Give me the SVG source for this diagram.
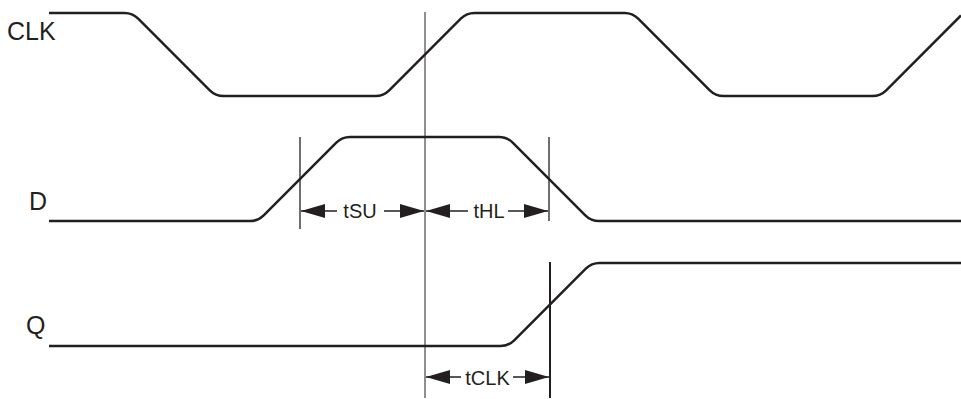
<svg xmlns="http://www.w3.org/2000/svg" width="961" height="399" viewBox="0 0 961 399">
<defs>
<style>
.wave{fill:none;stroke:#231f20;stroke-width:2.5;stroke-linejoin:round}
.mark{stroke:#231f20;fill:none}
.dim{stroke:#231f20;stroke-width:1.6;fill:none;marker-end:url(#ah)}
.lbl{font-family:"Liberation Sans",Arial,sans-serif;font-size:25px;fill:#231f20}
.dl{font-family:"Liberation Sans",Arial,sans-serif;font-size:20px;fill:#231f20;text-anchor:middle}
</style>
<marker id="ah" viewBox="0 0 24 14" refX="24" refY="7" markerWidth="24" markerHeight="14" orient="auto" markerUnits="userSpaceOnUse">
<path d="M0,0 L24,7 L0,14 Z" fill="#231f20"/>
</marker>
</defs>
<rect width="961" height="399" fill="#ffffff"/>
<g id="clk">
<text class="lbl" x="7" y="40">CLK</text>
<path class="wave" d="M49,13 H124.5 Q132.5,13 138.2,18.7 L209.8,90.3 Q215.5,96 223.5,96 H375.5 Q383.5,96 389.2,90.3 L460.8,18.7 Q466.5,13 474.5,13 H624.5 Q632.5,13 638.2,18.7 L709.8,90.3 Q715.5,96 723.5,96 H872.5 Q880.5,96 886.2,90.3 L961,15.5"/>
</g>
<g id="d">
<text class="lbl" x="29" y="210">D</text>
<path class="wave" d="M49,221 H250 Q258,221 263.7,215.3 L336.3,142.7 Q342,137 350,137 H499 Q507,137 512.7,142.7 L585.3,215.3 Q591,221 599,221 H961"/>
</g>
<g id="q">
<text class="lbl" x="26" y="334">Q</text>
<path class="wave" d="M49,346 H500.5 Q508.5,346 514.2,340.3 L585.8,268.7 Q591.5,263 599.5,263 H961"/>
</g>
<g id="connectors">
<line class="mark" x1="425" y1="12" x2="425" y2="398" stroke-width="1"/>
<line class="mark" x1="300" y1="137" x2="300" y2="229" stroke-width="1.3"/>
<line class="mark" x1="549" y1="137" x2="549" y2="221" stroke-width="1.3"/>
<line class="mark" x1="550" y1="262" x2="550" y2="398" stroke-width="2"/>
<line class="dim" x1="337" y1="211" x2="301" y2="211"/>
<line class="dim" x1="384" y1="211" x2="424" y2="211"/>
<line class="dim" x1="468" y1="211" x2="426" y2="211"/>
<line class="dim" x1="508" y1="211" x2="548" y2="211"/>
<line class="dim" x1="461" y1="377" x2="426" y2="377"/>
<line class="dim" x1="513" y1="377" x2="549" y2="377"/>
</g>
<g id="tsu"><text class="dl" x="360" y="218">tSU</text></g>
<g id="thl"><text class="dl" x="489" y="218">tHL</text></g>
<g id="tclk"><text class="dl" x="487.5" y="385">tCLK</text></g>
</svg>
